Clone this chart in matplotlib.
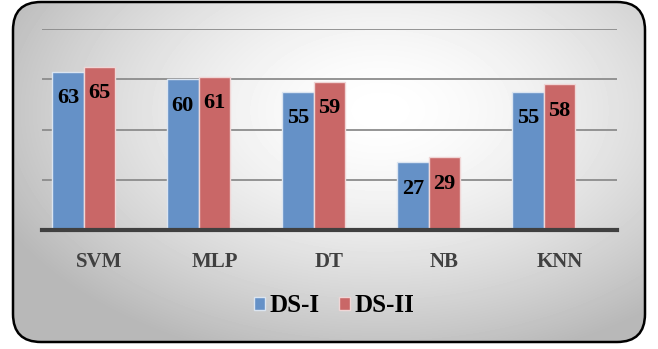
import matplotlib.pyplot as plt
import numpy as np
from matplotlib.patches import FancyBboxPatch

# data
models = ["SVM", "MLP", "DT", "NB", "KNN"]
ds1 = [63, 60, 55, 27, 55]
ds2 = [65, 61, 59, 29, 58]
series_names = ["DS-I", "DS-II"]

blue = "#6591C7"
red = "#C96767"
serif = ["Liberation Serif", "DejaVu Serif"]

fig = plt.figure(figsize=(6.58, 3.49), dpi=100)
W, H = 658, 349

# background panel with rounded border and soft radial shading
bg = fig.add_axes([0, 0, 1, 1])
bg.set_xlim(0, W)
bg.set_ylim(H, 0)
bg.axis("off")
yy, xx = np.mgrid[0:H, 0:W]
r = np.sqrt(((xx - 380) / 420.0) ** 2 + ((yy - 110) / 260.0) ** 2)
shade = np.clip(1.0 - 0.28 * r ** 1.6, 0.72, 1.0)
img = bg.imshow(shade, cmap="gray", vmin=0, vmax=1, extent=(0, W, H, 0), zorder=0)
box = FancyBboxPatch((13, 2), 632, 340, boxstyle="round,pad=0,rounding_size=28",
                     facecolor="none", edgecolor="black", linewidth=1.8, zorder=2)
bg.add_patch(box)
img.set_clip_path(box)

# main chart area; the bar pairs sit a bit left of their category labels
ax = fig.add_axes([42 / W, 1 - 230 / H, 575 / W, 201 / H])
ax.patch.set_alpha(0)
x = np.arange(len(models))
w = 0.272
shift = -0.139
b1 = ax.bar(x + shift - w / 2, ds1, w, color=blue, edgecolor="#dbe5f1", linewidth=1, zorder=3)
b2 = ax.bar(x + shift + w / 2, ds2, w, color=red, edgecolor="#f0d6d6", linewidth=1, zorder=3)

for bars, vals in ((b1, ds1), (b2, ds2)):
    for rect, v in zip(bars, vals):
        ax.annotate(str(v), (rect.get_x() + rect.get_width() / 2, v),
                    xytext=(0, -19), textcoords="offset points",
                    ha="center", va="center", fontsize=16, fontweight="bold",
                    family=serif, color="black", zorder=4)

ax.set_xlim(-0.5, len(models) - 0.5)
ax.set_ylim(0, 80)
ax.set_yticks([20, 40, 60, 80])
ax.yaxis.grid(True, color="#8c8c8c", linewidth=1.3, zorder=1)
ax.set_axisbelow(True)
ax.tick_params(axis="y", left=False, labelleft=False)
ax.tick_params(axis="x", bottom=False, pad=12)
ax.set_xticks(x)
ax.set_xticklabels(models, fontsize=15, fontweight="bold", family=serif, color="#404040")
for s in ["top", "right", "left"]:
    ax.spines[s].set_visible(False)
ax.spines["bottom"].set_color("#404040")
ax.spines["bottom"].set_linewidth(3)
ax.spines["bottom"].set_zorder(5)

leg = fig.legend([b1, b2], series_names, loc="center", bbox_to_anchor=(334 / W, 1 - 306 / H),
                 ncol=2, frameon=False, handlelength=0.45, handleheight=0.45,
                 handletextpad=0.15, columnspacing=0.8,
                 prop={"family": serif, "weight": "bold", "size": 18})

plt.savefig("out.png", dpi=100)
